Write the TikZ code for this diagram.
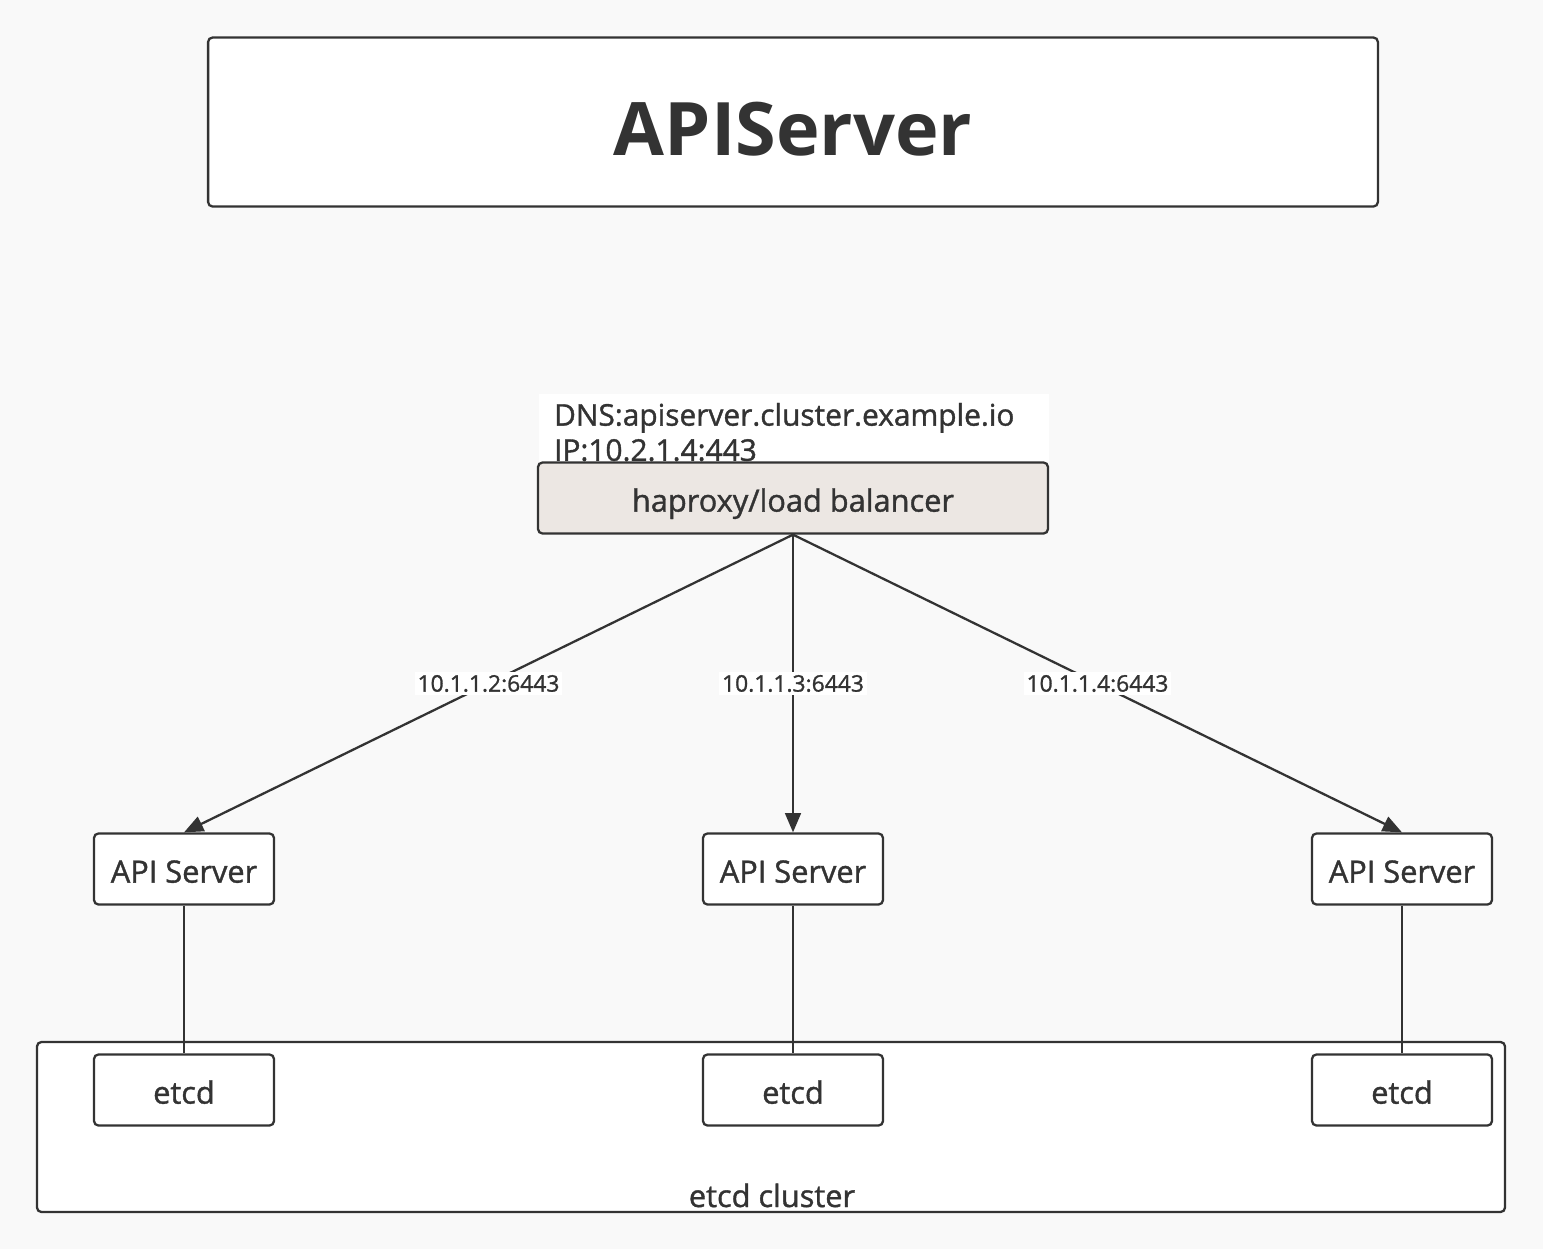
\documentclass[tikz,border=0pt]{standalone}
\usepackage{fontspec}
\setmainfont{Open Sans}[UprightFeatures={FakeBold=1.2}]
\usetikzlibrary{arrows.meta, positioning}
\definecolor{ink}{HTML}{333333}
\definecolor{paper}{HTML}{F9F9F9}
\definecolor{lbfill}{HTML}{ECE7E3}

\begin{document}
\begin{tikzpicture}[x=0.02cm, y=-0.02cm, line width=1.3pt, color=ink,
  box/.style={draw=ink, fill=white, rounded corners=2.5pt, inner sep=0pt,
    minimum width=3.6cm, minimum height=1.42cm, text height=15.5pt, text depth=0pt,
    font=\fontsize{17.5}{21}\selectfont},
  lbbox/.style={box, fill=lbfill, minimum width=10.2cm},
  titlebox/.style={box, minimum width=23.4cm, minimum height=3.38cm},
  iplabel/.style={fill=white, inner sep=1.5pt, font=\fontsize{13}{15}\selectfont},
  arr/.style={-{Triangle[length=11pt, width=9pt]}}]
% background and margins
\fill[paper] (0,0) rectangle (1543,1249);

% title
\node[titlebox] (title) at (793,122) {};
\node[font=\fontsize{42}{50}\selectfont\bfseries] (titletext) at (793,129) {APIServer};

% load balancer with its address
\node[fill=white, anchor=north west, align=left, inner xsep=0.3cm, inner ysep=5pt,
  text width=9.6cm, minimum height=1.5cm, font=\fontsize{17}{20}\selectfont] (dns) at (538,393)
  {DNS:apiserver.cluster.example.io\\IP:10.2.1.4:443};
\node[lbbox] (lb) at (793,498) {haproxy/load balancer};

% api servers
\node[box] (api1) at (184,869) {API Server};
\node[box] (api2) at (793,869) {API Server};
\node[box] (api3) at (1402,869) {API Server};

% etcd cluster
\draw[fill=white, rounded corners=2.5pt] (37,1042) rectangle (1505,1212);
\node[anchor=base, font=\fontsize{17.5}{21}\selectfont] (clusterlabel) at (772,1207) {etcd cluster};
\node[box] (etcd1) at (184,1090) {etcd};
\node[box] (etcd2) at (793,1090) {etcd};
\node[box] (etcd3) at (1402,1090) {etcd};

\draw[arr] (lb.south) -- (api1.north) node[midway, iplabel] {10.1.1.2:6443};
\draw[arr] (lb.south) -- (api2.north) node[midway, iplabel] {10.1.1.3:6443};
\draw[arr] (lb.south) -- (api3.north) node[midway, iplabel] {10.1.1.4:6443};

\draw (api1.south) -- (etcd1.north);
\draw (api2.south) -- (etcd2.north);
\draw (api3.south) -- (etcd3.north);
\end{tikzpicture}
\end{document}
